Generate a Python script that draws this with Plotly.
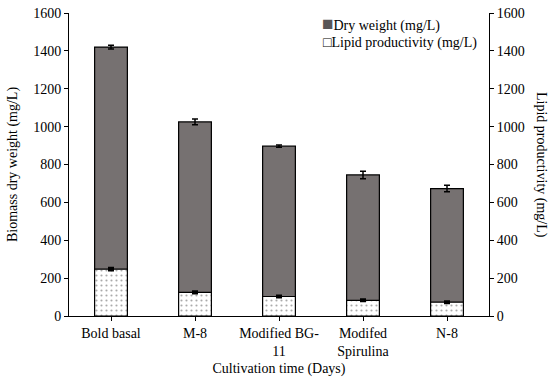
import plotly.graph_objects as go

categories = ["Bold basal", "M-8", "Modified BG-<br>11", "Modifed<br>Spirulina", "N-8"]
dry_weight = [1420, 1025, 897, 745, 673]
dry_weight_err = [10, 15, 6, 20, 17]
lipid = [247, 125, 103, 83, 73]
lipid_err = [6, 5, 4, 4, 4]
legend_labels = ["Dry weight (mg/L)", "Lipid productivity (mg/L)"]

FONT = "Liberation Serif"
GRAY = "#767171"

fig = go.Figure()
fig.add_trace(go.Bar(
    x=categories, y=dry_weight, name=legend_labels[0],
    marker=dict(color=GRAY, line=dict(color="black", width=1.2)),
    width=0.39, showlegend=False,
    error_y=dict(type="data", array=dry_weight_err, color="black", thickness=1.5, width=3),
    yaxis="y",
))
fig.add_trace(go.Bar(
    x=categories, y=lipid, name=legend_labels[1],
    marker=dict(color="white", line=dict(color="black", width=1.2),
                pattern=dict(shape=".", fgcolor="#555555", bgcolor="white", size=5, solidity=0.15)),
    width=0.39, showlegend=False,
    error_y=dict(type="data", array=lipid_err, color="black", thickness=2.5, width=3),
    yaxis="y2",
))

axis_font = dict(family=FONT, size=14, color="black")
fig.update_layout(
    width=558, height=382,
    margin=dict(l=69, r=69, t=13, b=66),
    autosize=False,
    paper_bgcolor="white", plot_bgcolor="white",
    barmode="overlay",
    font=axis_font,
    showlegend=False,
    xaxis=dict(showline=True, linecolor="black", linewidth=1, ticks="outside", ticklen=4,
               tickcolor="black", tickfont=axis_font, showgrid=False, automargin=False,
               title=dict(text="Cultivation time (Days)", font=axis_font, standoff=5)),
    yaxis=dict(range=[0, 1600], dtick=200, showline=True, linecolor="black", linewidth=1,
               ticks="outside", ticklen=4, tickcolor="black", tickfont=axis_font,
               showgrid=False, zeroline=False, automargin=False,
               title=dict(text="Biomass dry weight (mg/L)", font=axis_font, standoff=12)),
    yaxis2=dict(range=[0, 1600], dtick=200, overlaying="y", side="right", showline=True,
                linecolor="black", linewidth=1, ticks="outside", ticklen=4, tickcolor="black",
                tickfont=axis_font, showgrid=False, zeroline=False, automargin=False),
    annotations=[
        dict(text="Lipid productivity (mg/L)", xref="paper", yref="paper",
             x=1.125, y=0.5, textangle=90, showarrow=False, font=axis_font,
             xanchor="center", yanchor="middle"),
        dict(text=f"<span style='color:#5a5656;font-size:19px'>■</span>{legend_labels[0]}",
             xref="paper", yref="paper",
             x=0.598, y=0.9637, xanchor="left", yanchor="middle", showarrow=False, font=axis_font),
        dict(text=f"□{legend_labels[1]}", xref="paper", yref="paper",
             x=0.6, y=0.901, xanchor="left", yanchor="middle", showarrow=False, font=axis_font),
    ],
)

fig.write_html("out.html", config={"displayModeBar": False},
               post_script="document.body.style.margin='0';")
